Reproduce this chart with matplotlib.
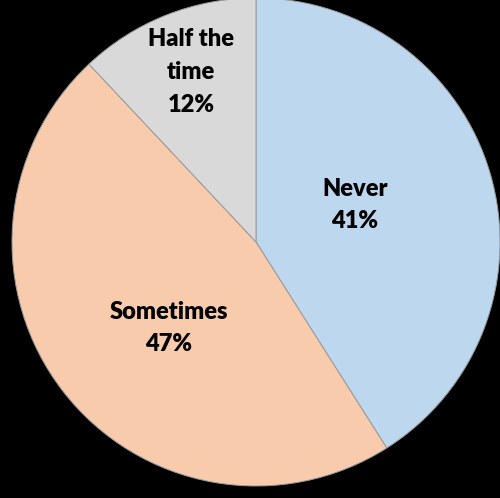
import matplotlib.pyplot as plt

labels = ['Never', 'Sometimes', 'Half the\ntime']
values = [41, 47, 12]
colors = ['#BDD7EE', '#F8CBAD', '#D9D9D9']

# label anchor points in pixel space (x from left, y from top)
label_xy = [(355, 205), (169, 328), (191, 72)]


def main():
    fig = plt.figure(figsize=(5, 4.98), dpi=100, facecolor='black')
    ax = fig.add_axes([0, 0, 1, 1])
    ax.set_facecolor('black')

    ax.pie(values, colors=colors, startangle=90, counterclock=False,
           center=(256, 256), radius=244, frame=True,
           wedgeprops=dict(edgecolor='#9a9a9a', linewidth=0.7))
    ax.set_xlim(0, 500)
    ax.set_ylim(0, 498)
    ax.set_aspect('equal')
    ax.axis('off')

    for lab, val, (x, y) in zip(labels, values, label_xy):
        ax.text(x, 498 - y, f'{lab}\n{val}%', ha='center', va='center',
                fontsize=17, fontweight='heavy', family='Lato',
                linespacing=1.6, color='black')

    fig.savefig('out.png', dpi=100, facecolor='black')


if __name__ == '__main__':
    main()
